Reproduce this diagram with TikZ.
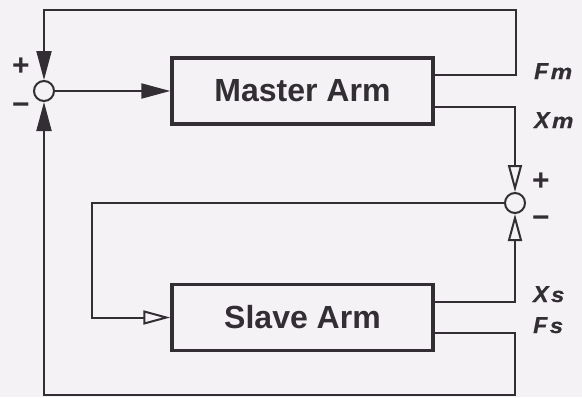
\documentclass[tikz,border=0pt]{standalone}
\usepackage{fontspec}
\usepackage{graphicx}
\setmainfont{Liberation Sans}
\newfontfamily\sigfont{Liberation Sans}[BoldItalicFeatures={FakeBold=0.6}]
\usetikzlibrary{arrows.meta}
\definecolor{ink}{RGB}{50,46,52}
\definecolor{paper}{RGB}{244,242,245}
\newcommand{\sigsub}[1]{\hspace{2.5pt}{\fontsize{21}{21}\selectfont\scalebox{1.15}[1]{#1}}}
\tikzset{
  x=1pt, y=-1pt,
  block/.style={draw=ink, line width=3.4pt, minimum width=261pt, minimum height=66pt,
    inner sep=0pt, text=ink, font=\fontsize{32}{32}\selectfont\bfseries},
  sumjunc/.style={draw=ink, line width=2pt, circle, minimum size=20pt, inner sep=0pt, fill=paper},
  wire/.style={draw=ink, line width=2pt},
  solidtip/.style={wire, -{Triangle[length=29pt, width=15pt]}},
  hollowtip/.style={wire, -{Triangle[open, length=27pt, width=14pt, line width=2pt]}},
  sig/.style={text=ink, font=\sigfont\fontsize{23}{23}\selectfont\bfseries\itshape, inner sep=0pt},
  sign/.style={text=ink, font=\fontsize{30}{30}\selectfont\bfseries, inner sep=0pt},
}
\begin{document}
\begin{tikzpicture}
  \fill[paper] (0,0) rectangle (582,397);
  \useasboundingbox (0,0) rectangle (582,397);

  % blocks and summing junctions
  \node[block] (master) at (302.5,91) {Master Arm};
  \node[block] (slave) at (302.5,317.5) {Slave Arm};
  \node[sumjunc] (sumL) at (44,91) {};
  \node[sumjunc] (sumR) at (515,203) {};

  % corner points of the wiring
  \coordinate (fmOut) at (433,75);
  \coordinate (fmCorner) at (516,75);
  \coordinate (topR) at (516,10);
  \coordinate (topL) at (44,10);
  \coordinate (xmOut) at (433,107);
  \coordinate (xmCorner) at (515,107);
  \coordinate (xsOut) at (433,302);
  \coordinate (xsCorner) at (515,302);
  \coordinate (fsOut) at (433,333);
  \coordinate (fsCorner) at (515,333);
  \coordinate (botR) at (515,395);
  \coordinate (botL) at (44,395);
  \coordinate (errTop) at (92,203);
  \coordinate (errBot) at (92,317.5);

  % master force fed back to the left junction
  \draw[solidtip] (fmOut) -- (fmCorner) -- (topR) -- (topL) -- (sumL.north);
  % slave force fed back to the left junction
  \draw[solidtip] (fsOut) -- (fsCorner) -- (botR) -- (botL) -- (sumL.south);
  % left junction drives the master arm
  \draw[solidtip] (sumL.east) -- (master.west);
  % position comparison at the right junction
  \draw[hollowtip] (xmOut) -- (xmCorner) -- (sumR.north);
  \draw[hollowtip] (xsOut) -- (xsCorner) -- (sumR.south);
  % position error drives the slave arm
  \draw[hollowtip] (sumR.west) -- (errTop) -- (errBot) -- (slave.west);

  % signs at the junctions
  \node[sign] (pL) at (21,67) {+};
  \node[sign] (mL) at (21,109) {−};
  \node[sign] (pR) at (541,182) {+};
  \node[sign] (mR) at (541,222) {−};

  % signal names
  \node[sig, anchor=base west] (Fm) at (534,79) {F\sigsub{m}};
  \node[sig, anchor=base west] (Xm) at (534,128) {X\sigsub{m}};
  \node[sig, anchor=base west] (Xs) at (533,302) {X\sigsub{s}};
  \node[sig, anchor=base west] (Fs) at (533,333) {F\sigsub{s}};
\end{tikzpicture}
\end{document}
